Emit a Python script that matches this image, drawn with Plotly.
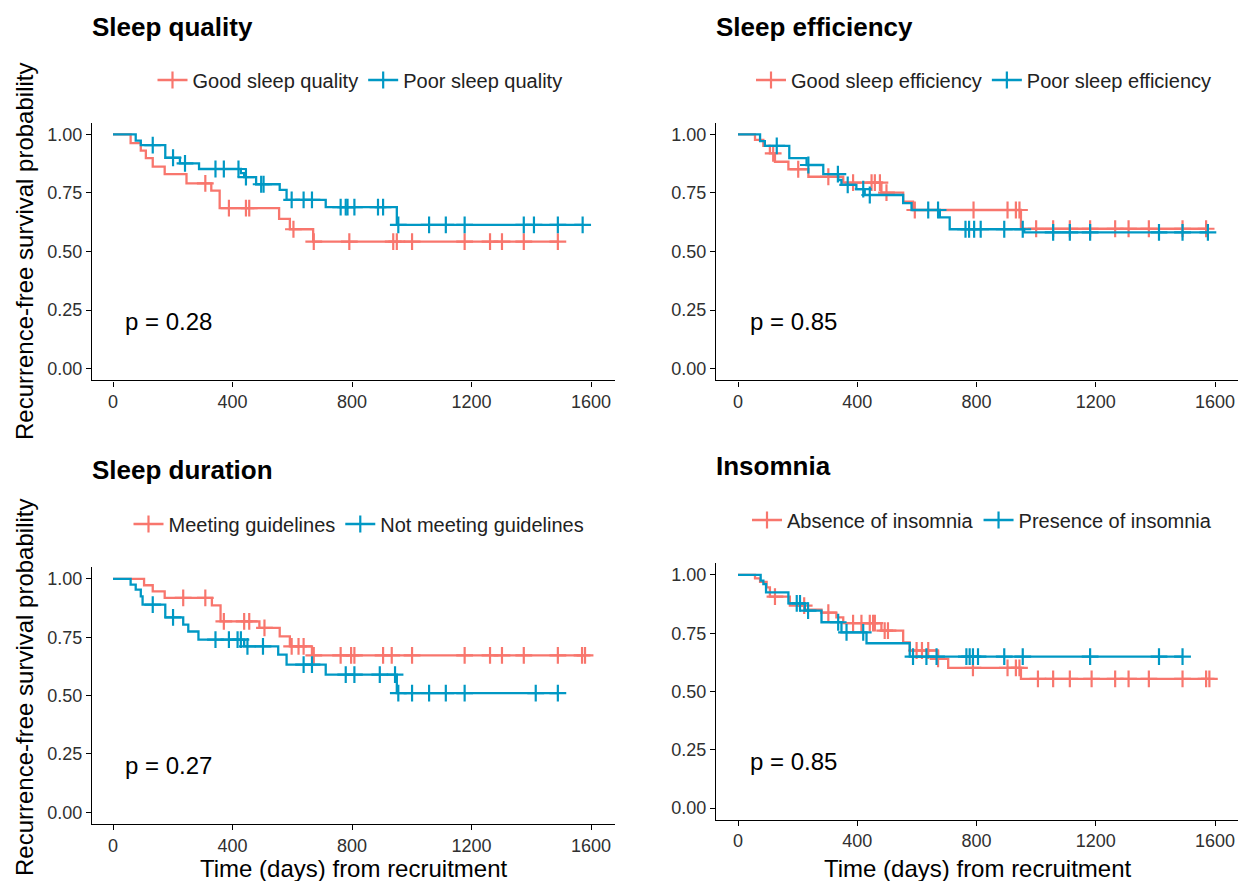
import plotly.graph_objects as go

# ---------------- data ----------------
# Panel 1: Sleep quality
sq_labels = ["Good sleep quality", "Poor sleep quality"]
sq_good_t = [0, 59, 93, 110, 133, 173, 246, 329, 357, 556, 592, 670]
sq_good_s = [1.0, 0.962, 0.930, 0.898, 0.862, 0.830, 0.791, 0.760, 0.685, 0.639, 0.595, 0.542]
sq_good_c = [309, 388, 445, 456, 604, 672, 791, 938, 950, 1001, 1177, 1262, 1302, 1375, 1489]
sq_poor_t = [0, 76, 93, 175, 224, 288, 428, 439, 479, 558, 581, 712, 950]
sq_poor_s = [1.0, 0.973, 0.954, 0.900, 0.876, 0.852, 0.834, 0.817, 0.787, 0.763, 0.720, 0.689, 0.614]
sq_poor_c = [133, 201, 241, 343, 371, 420, 445, 496, 504, 598, 638, 666, 762, 779, 785, 808,
             887, 904, 955, 1058, 1114, 1177, 1375, 1409, 1489, 1572]
sq_p = "p = 0.28"

# Panel 2: Sleep efficiency
se_labels = ["Good sleep efficiency", "Poor sleep efficiency"]
se_good_t = [0, 57, 85, 107, 124, 169, 236, 353, 481, 554, 587, 949]
se_good_s = [1.0, 0.976, 0.951, 0.919, 0.883, 0.851, 0.819, 0.794, 0.751, 0.713, 0.677, 0.597]
se_good_c = [118, 202, 303, 386, 448, 459, 476, 498, 593, 790, 904, 932, 944, 1000, 1057,
             1113, 1181, 1265, 1310, 1378, 1491, 1570]
se_poor_t = [0, 74, 90, 172, 230, 286, 336, 347, 397, 425, 554, 582, 677, 710, 960]
se_poor_s = [1.0, 0.971, 0.951, 0.898, 0.869, 0.830, 0.805, 0.784, 0.766, 0.741, 0.706, 0.677,
             0.646, 0.595, 0.582]
se_poor_c = [130, 236, 335, 368, 420, 442, 638, 671, 763, 775, 792, 814, 893, 955, 1057,
             1113, 1181, 1412, 1491, 1576]
se_p = "p = 0.85"

# Panel 3: Sleep duration
sd_labels = ["Meeting guidelines", "Not meeting guidelines"]
sd_meet_t = [0, 104, 133, 173, 331, 360, 490, 558, 592, 666]
sd_meet_s = [1.0, 0.973, 0.947, 0.919, 0.887, 0.818, 0.790, 0.754, 0.711, 0.673]
sd_meet_c = [235, 309, 371, 439, 456, 507, 598, 621, 638, 672, 762, 797, 808, 904, 933,
             1001, 1177, 1262, 1302, 1375, 1489, 1570, 1580]
sd_not_t = [0, 59, 76, 93, 99, 175, 235, 252, 286, 439, 553, 581, 712, 950]
sd_not_s = [1.0, 0.976, 0.954, 0.925, 0.890, 0.835, 0.804, 0.775, 0.740, 0.711, 0.676, 0.633,
            0.590, 0.511]
sd_not_c = [133, 201, 343, 388, 417, 428, 450, 502, 638, 666, 779, 808, 893, 944, 955, 1001,
            1058, 1114, 1177, 1415, 1489]
sd_p = "p = 0.27"

# Panel 4: Insomnia
in_labels = ["Absence of insomnia", "Presence of insomnia"]
in_abs_t = [0, 57, 74, 96, 107, 174, 224, 280, 330, 353, 481, 554, 576, 671, 705, 949]
in_abs_s = [1.0, 0.985, 0.970, 0.947, 0.907, 0.868, 0.851, 0.838, 0.818, 0.793, 0.761, 0.711,
            0.676, 0.640, 0.601, 0.554]
in_abs_c = [124, 222, 303, 386, 414, 442, 453, 459, 492, 503, 599, 617, 638, 671, 788, 904,
            932, 944, 1006, 1057, 1113, 1186, 1265, 1310, 1378, 1491, 1570, 1581]
in_pres_t = [0, 76, 85, 94, 169, 224, 280, 347, 431, 576]
in_pres_s = [1.0, 0.976, 0.961, 0.925, 0.878, 0.847, 0.797, 0.754, 0.707, 0.650]
in_pres_c = [197, 208, 235, 336, 364, 420, 587, 632, 666, 766, 777, 788, 805, 893, 955, 1181,
             1412, 1491]
in_p = "p = 0.85"

panel_titles = ["Sleep quality", "Sleep efficiency", "Sleep duration", "Insomnia"]
x_ticks = [0, 400, 800, 1200, 1600]
y_ticks = [0, 0.25, 0.5, 0.75, 1.0]
y_ticktext = ["0.00", "0.25", "0.50", "0.75", "1.00"]
y_title = "Recurrence-free survival probability"
x_title = "Time (days) from recruitment"

RED = "#F8766D"
BLUE = "#0098C4"
FONT = "Liberation Sans, Arial, sans-serif"
W, H = 1240, 881


def px(x):
    return x / W


def py(y):
    return 1 - y / H


# ---------------- layout geometry (screen pixels) ----------------
panels = [
    dict(xd=(92, 615), yd=(122.6, 380.4), xr=(-70.3, 1680.3), leg=(360, 80), title=(90, 27)),
    dict(xd=(716, 1238), yd=(122.6, 380.4), xr=(-73.8, 1677), leg=(984, 80), title=(714, 27)),
    dict(xd=(92, 615), yd=(567.3, 824.0), xr=(-70.3, 1680.3), leg=(359, 524), title=(90, 470)),
    dict(xd=(716, 1238), yd=(563.3, 819.7), xr=(-73.8, 1677), leg=(982, 520), title=(714, 466)),
]

data = [
    (sq_labels, (sq_good_t, sq_good_s, sq_good_c), (sq_poor_t, sq_poor_s, sq_poor_c), sq_p),
    (se_labels, (se_good_t, se_good_s, se_good_c), (se_poor_t, se_poor_s, se_poor_c), se_p),
    (sd_labels, (sd_meet_t, sd_meet_s, sd_meet_c), (sd_not_t, sd_not_s, sd_not_c), sd_p),
    (in_labels, (in_abs_t, in_abs_s, in_abs_c), (in_pres_t, in_pres_s, in_pres_c), in_p),
]


def surv_at(ts, ss, c):
    val = ss[0]
    for t, s in zip(ts, ss):
        if t <= c:
            val = s
    return val


fig = go.Figure()
annotations = []
layout_extra = {}

for i, (labels, g1, g2, ptxt) in enumerate(data):
    n = "" if i == 0 else str(i + 1)
    xa, ya = "x" + n, "y" + n
    legname = "legend" if i == 0 else "legend" + str(i + 1)
    P = panels[i]
    for (ts, ss, cs), col, lab in ((g1, RED, labels[0]), (g2, BLUE, labels[1])):
        end = max(ts[-1], cs[-1]) if cs else ts[-1]
        fig.add_trace(go.Scatter(
            x=list(ts) + [end], y=list(ss) + [ss[-1]], mode="lines",
            line=dict(color=col, width=2.3, shape="hv"),
            xaxis=xa, yaxis=ya, showlegend=False, hoverinfo="skip"))
        fig.add_trace(go.Scatter(
            x=cs, y=[surv_at(ts, ss, c) for c in cs], mode="markers",
            marker=dict(symbol="cross-thin", size=12, line=dict(color=col, width=2.2)),
            xaxis=xa, yaxis=ya, showlegend=False, hoverinfo="skip"))
        fig.add_trace(go.Scatter(
            x=[None], y=[None], mode="lines+markers", name=lab,
            line=dict(color=col, width=2.3),
            marker=dict(symbol="cross-thin", size=12, line=dict(color=col, width=2.2)),
            xaxis=xa, yaxis=ya, showlegend=True, legend=legname))

    layout_extra["xaxis" + n] = dict(
        domain=[px(P["xd"][0]), px(P["xd"][1])], range=list(P["xr"]), anchor=ya,
        tickvals=x_ticks, ticktext=[str(v) for v in x_ticks],
        showline=True, linecolor="black", linewidth=1.3, ticks="outside", ticklen=5,
        tickcolor="black", tickwidth=1.2, showgrid=False, zeroline=False,
        tickfont=dict(family=FONT, size=18, color="#303030"), fixedrange=True)
    layout_extra["yaxis" + n] = dict(
        domain=[py(P["yd"][1]), py(P["yd"][0])], range=[-0.05, 1.05], anchor=xa,
        tickvals=y_ticks, ticktext=y_ticktext,
        showline=True, linecolor="black", linewidth=1.3, ticks="outside", ticklen=5,
        tickcolor="black", tickwidth=1.2, showgrid=False, zeroline=False,
        tickfont=dict(family=FONT, size=18, color="#303030"), fixedrange=True)
    layout_extra[legname] = dict(
        orientation="h", x=px(P["leg"][0]), xanchor="center", y=py(P["leg"][1]),
        yanchor="middle", font=dict(family=FONT, size=20, color="#222222"),
        bgcolor="rgba(0,0,0,0)", itemwidth=30, tracegroupgap=0)

    annotations.append(dict(
        text="<b>" + panel_titles[i] + "</b>", x=px(P["title"][0]), y=py(P["title"][1]),
        xref="paper", yref="paper", xanchor="left", yanchor="middle", showarrow=False,
        font=dict(family=FONT, size=26, color="black")))
    annotations.append(dict(
        text=ptxt, x=35, y=0.2, xref=xa, yref=ya, xanchor="left", yanchor="middle",
        showarrow=False, font=dict(family=FONT, size=24, color="black")))

# axis titles
for yc in (252, 688):
    annotations.append(dict(
        text=y_title, x=px(24), y=py(yc), xref="paper", yref="paper",
        xanchor="center", yanchor="middle", textangle=-90, showarrow=False,
        font=dict(family=FONT, size=24, color="black")))
for xc in (353, 977):
    annotations.append(dict(
        text=x_title, x=px(xc), y=py(868), xref="paper", yref="paper",
        xanchor="center", yanchor="middle", showarrow=False,
        font=dict(family=FONT, size=24, color="black")))

fig.update_layout(
    width=W, height=H, autosize=False,
    margin=dict(l=0, r=0, t=0, b=0, pad=0),
    paper_bgcolor="white", plot_bgcolor="white",
    font=dict(family=FONT),
    annotations=annotations,
    **layout_extra)

fig.write_html(
    "out.html", config={"displayModeBar": False},
    post_script="document.body.style.margin='0';document.body.style.overflow='hidden';")
